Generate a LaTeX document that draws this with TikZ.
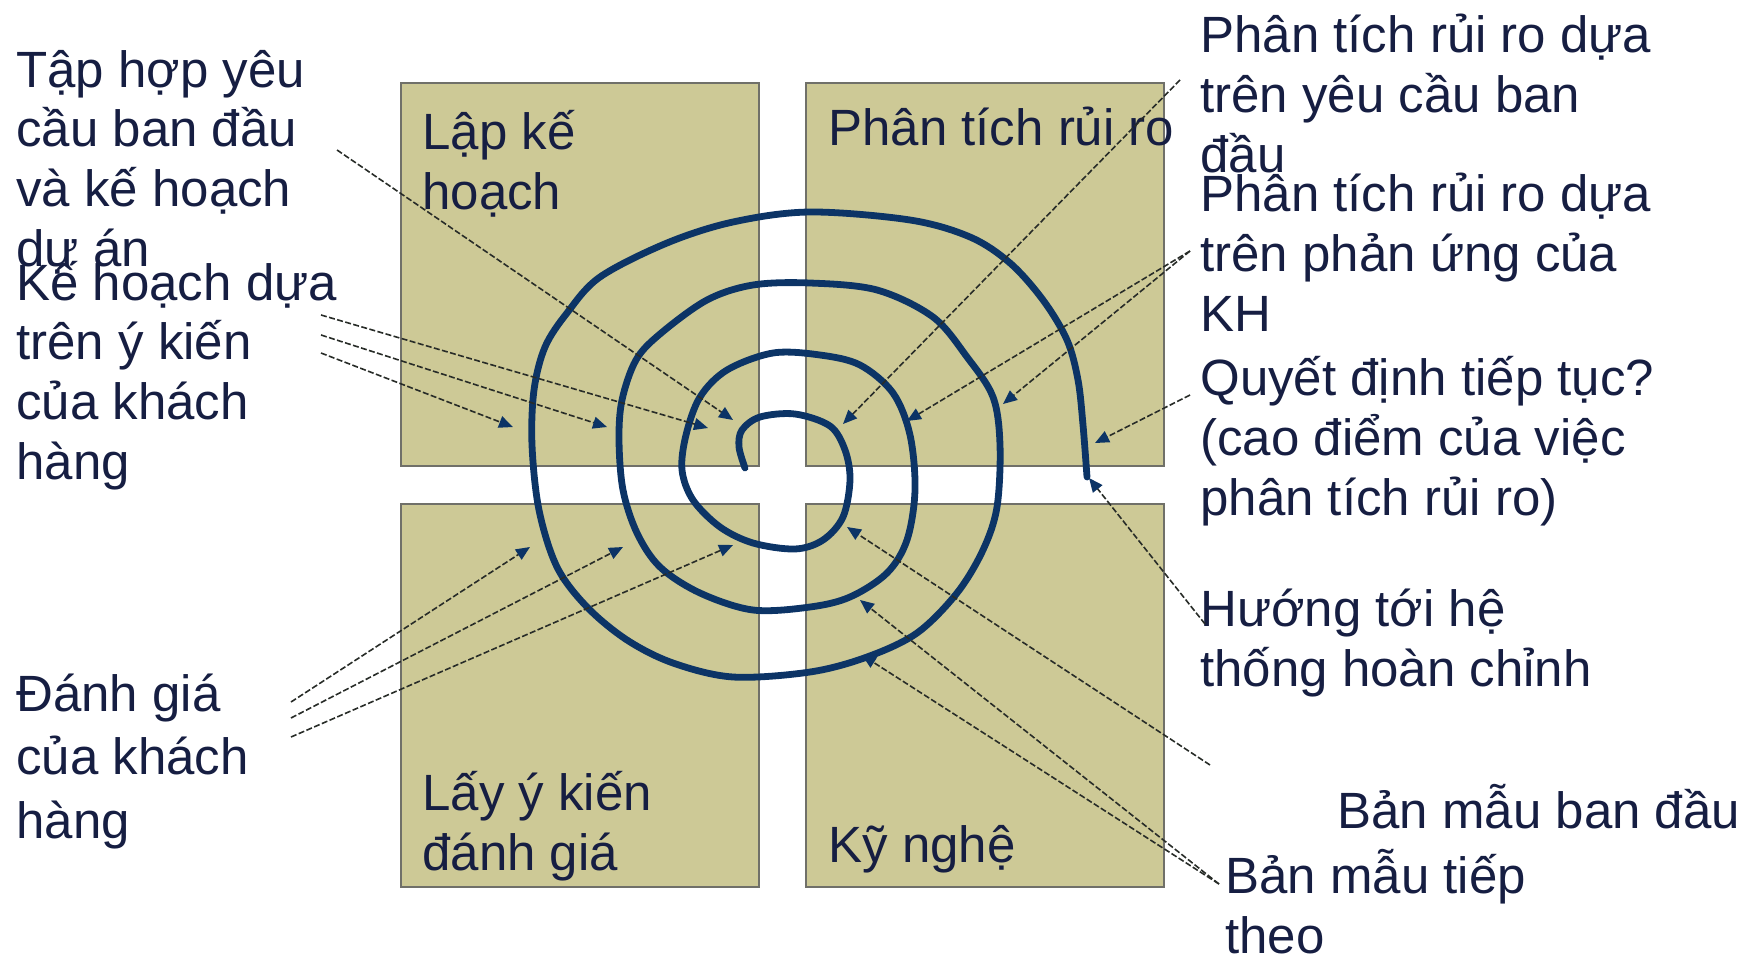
\documentclass[tikz,border=0pt]{standalone}
\usepackage{fontspec}
\setmainfont{Liberation Sans}
\usetikzlibrary{arrows.meta}
\definecolor{khaki}{RGB}{205,201,150}
\definecolor{spiralblue}{RGB}{12,52,102}
\definecolor{txtblue}{RGB}{22,30,66}
\definecolor{edgegray}{RGB}{112,112,105}
\definecolor{leadgray}{RGB}{40,44,40}
\begin{document}
\begin{tikzpicture}[x=0.5pt, y=-0.5pt,
        quad/.style={draw=edgegray, line width=1pt, fill=khaki, anchor=north west, inner sep=0pt, minimum width=179pt, minimum height=191.5pt},
        lbl/.style={anchor=base west, align=left, inner sep=0pt, text=txtblue, font=\fontsize{25.5}{29.8}\selectfont},
        spiral/.style={draw=spiralblue, line width=3.4pt, line cap=round, line join=round},
        lead/.style={-{Triangle[length=7pt, width=6pt, color=spiralblue]}, draw=leadgray, line width=0.8pt, dash pattern=on 3pt off 1.2pt}]

        \useasboundingbox (0,0) rectangle (1754,963);

        % Bon o (nhan dat theo dong cuoi)
        \node[quad] (plan) at (400,82) {};
        \node[quad] (risk) at (805,82) {};
        \node[quad] (eval) at (400,503) {};
        \node[quad] (eng) at (805,503) {};

        \node[lbl] (plantxt) at (422,209) {Lập kế\\hoạch};
        \node[lbl] (risktxt) at (828,145) {Phân tích rủi ro};
        \node[lbl] (evaltxt) at (422,870) {Lấy ý kiến\\đánh giá};
        \node[lbl] (engtxt) at (828,862) {Kỹ nghệ};

        % Xoan oc
        \draw[spiral] plot[smooth, tension=0.55] coordinates {
            (745,468) (739,447) (742,430) (760,417) (795,414) (830,426) (845,450)
            (850,480) (843,517) (823,540) (795,549) (753,543) (720,527) (693,500)
            (682,470) (686,435) (700,397) (727,370) (773,353) (820,355) (860,365)
            (893,393) (910,435) (915,490) (907,540) (887,573) (850,597) (810,607)
            (753,610) (700,593) (660,567) (637,533) (623,490) (619,440) (622,400)
            (636,360) (660,334) (707,300) (753,285) (810,283) (877,290) (933,317)
            (967,357) (993,397) (1000,445) (997,507) (983,550) (957,593) (917,633)
            (867,657) (810,672) (733,677) (673,663) (627,640) (587,607) (557,567)
            (539,510) (532,445) (534,390) (545,347) (567,313) (600,277) (667,243)
            (733,222) (810,212) (910,220) (970,237) (1010,263) (1043,300) (1067,340)
            (1078,380) (1083,425) (1087,477)};

        % Nhan
        \node[lbl] (initreq) at (16,266) {Tập hợp yêu\\cầu ban đầu\\và kế hoạch\\dự án};
        \node[lbl] (planfb) at (16,479) {Kế hoạch dựa\\trên ý kiến\\của khách\\hàng};
        \node[lbl, font=\fontsize{25.5}{31.75}\selectfont] (custeval) at (16,838) {Đánh giá\\của khách\\hàng};
        \node[lbl] (riskreq) at (1200,172) {Phân tích rủi ro dựa\\trên yêu cầu ban\\đầu};
        \node[lbl] (riskfb) at (1200,331) {Phân tích rủi ro dựa\\trên phản ứng của\\KH};
        \node[lbl] (decide) at (1200,515) {Quyết định tiếp tục?\\(cao điểm của việc\\phân tích rủi ro)};
        \node[lbl] (final) at (1200,686) {Hướng tới hệ\\thống hoàn chỉnh};
        \node[lbl] (proto0) at (1337,828) {Bản mẫu ban đầu};
        \node[lbl] (protoN) at (1225,953) {Bản mẫu tiếp\\theo};

        % Diem dau va cuoi cua cac mui ten
        \coordinate (a1) at (337,150);  \coordinate (e1) at (733,420);
        \coordinate (a2) at (321,315);  \coordinate (e2) at (708,428);
        \coordinate (a3) at (321,335);  \coordinate (e3) at (607,427);
        \coordinate (a4) at (321,353);  \coordinate (e4) at (513,427);
        \coordinate (a5) at (1180,80);  \coordinate (e5) at (843,424);
        \coordinate (a6) at (1190,251); \coordinate (e6) at (907,421);
        \coordinate (e7) at (1003,404);
        \coordinate (a8) at (1190,395); \coordinate (e8) at (1095,443);
        \coordinate (a9) at (1205,624); \coordinate (e9) at (1089,478);
        \coordinate (a10) at (1210,765); \coordinate (e10) at (847,527);
        \coordinate (a11) at (1219,884); \coordinate (e11) at (860,600);
        \coordinate (e12) at (862,655);
        \coordinate (a13) at (291,702); \coordinate (e13) at (530,547);
        \coordinate (a14) at (291,718); \coordinate (e14) at (623,547);
        \coordinate (a15) at (291,737); \coordinate (e15) at (733,545);

        % Mui ten
        \draw[lead] (a1) -- (e1);
        \draw[lead] (a2) -- (e2);
        \draw[lead] (a3) -- (e3);
        \draw[lead] (a4) -- (e4);
        \draw[lead] (a5) -- (e5);
        \draw[lead] (a6) -- (e6);
        \draw[lead] (a6) -- (e7);
        \draw[lead] (a8) -- (e8);
        \draw[lead] (a9) -- (e9);
        \draw[lead] (a10) -- (e10);
        \draw[lead] (a11) -- (e11);
        \draw[lead] (a11) -- (e12);
        \draw[lead] (a13) -- (e13);
        \draw[lead] (a14) -- (e14);
        \draw[lead] (a15) -- (e15);

    \end{tikzpicture}
\end{document}
